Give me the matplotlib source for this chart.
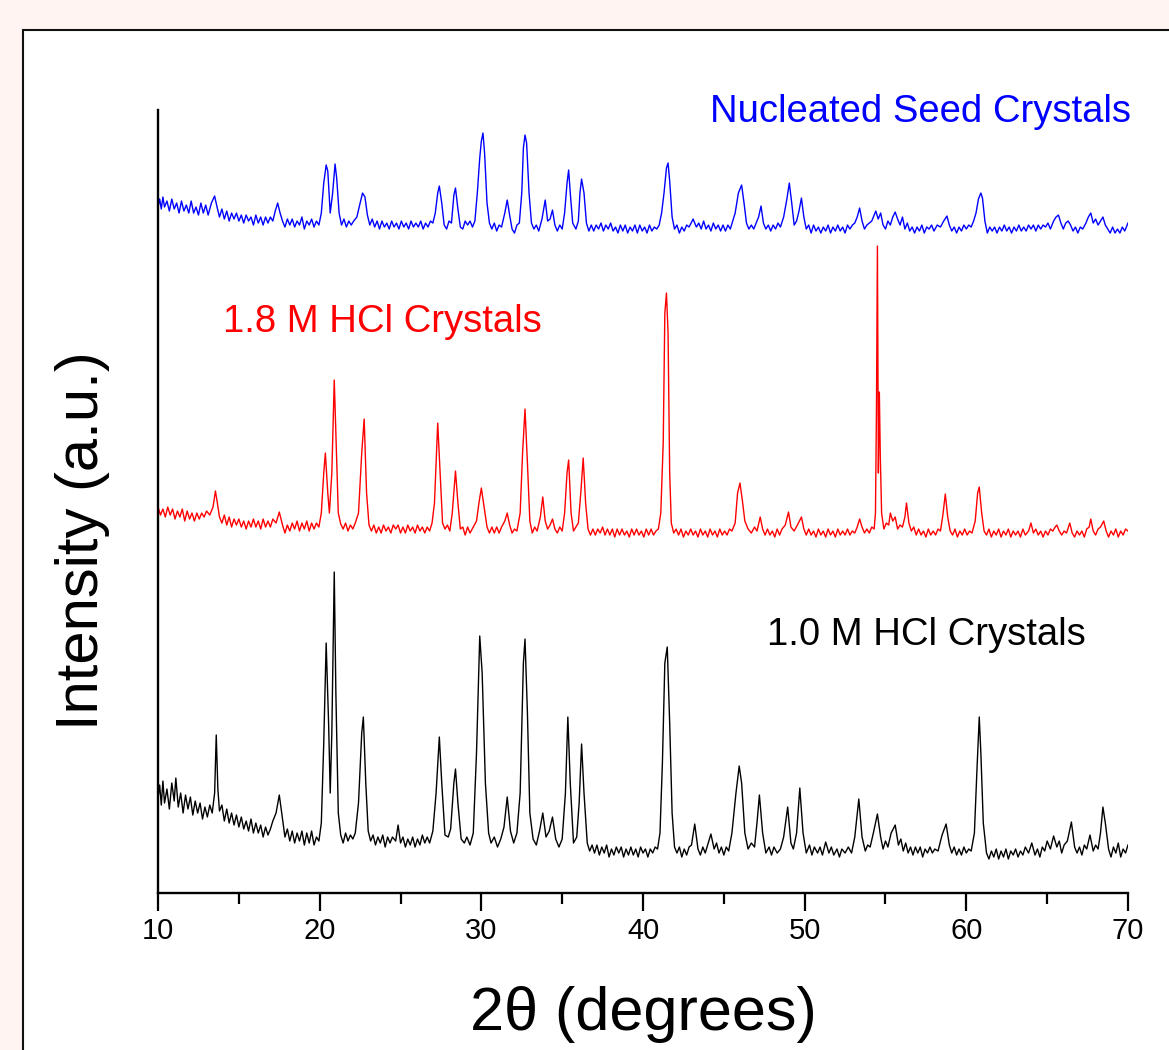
import matplotlib
matplotlib.use("Agg")
import matplotlib.pyplot as plt
import matplotlib.patches as mpatches
from matplotlib.ticker import MultipleLocator

plt.rcParams['font.family'] = ['Liberation Sans', 'DejaVu Sans']

# XRD patterns, (2theta, intensity a.u.), traces already offset
seed_pts = [
    (10.00, 686), (10.10, 694), (10.20, 684), (10.30, 696), (10.40, 686), (10.55, 692), (10.70, 682),
    (10.85, 694), (11.00, 684), (11.15, 690), (11.30, 680), (11.45, 692), (11.60, 682), (11.75, 688),
    (11.90, 680), (12.05, 692), (12.20, 680), (12.35, 686), (12.50, 678), (12.65, 690), (12.80, 680),
    (12.95, 688), (13.10, 678), (13.30, 690), (13.50, 697), (13.65, 686), (13.80, 676), (13.95, 684),
    (14.10, 674), (14.25, 682), (14.40, 672), (14.55, 680), (14.70, 674), (14.85, 680), (15.00, 672),
    (15.15, 678), (15.30, 670), (15.45, 678), (15.60, 672), (15.75, 676), (15.90, 668), (16.05, 678),
    (16.20, 670), (16.35, 676), (16.50, 668), (16.65, 676), (16.80, 670), (16.95, 676), (17.10, 672),
    (17.25, 682), (17.40, 690), (17.55, 680), (17.70, 672), (17.85, 666), (18.00, 674), (18.15, 668),
    (18.30, 674), (18.45, 666), (18.60, 672), (18.75, 668), (18.90, 676), (19.05, 664), (19.20, 672),
    (19.35, 668), (19.50, 674), (19.65, 666), (19.80, 672), (19.95, 668), (20.10, 680), (20.25, 710),
    (20.40, 728), (20.50, 722), (20.65, 680), (20.80, 700), (20.95, 729), (21.05, 715), (21.20, 680),
    (21.35, 668), (21.50, 674), (21.65, 666), (21.80, 672), (21.95, 668), (22.10, 672), (22.30, 676),
    (22.50, 690), (22.65, 700), (22.80, 696), (22.95, 678), (23.10, 668), (23.25, 674), (23.40, 666),
    (23.55, 672), (23.70, 664), (23.85, 672), (24.00, 666), (24.15, 670), (24.30, 664), (24.45, 672),
    (24.60, 666), (24.75, 670), (24.90, 664), (25.05, 672), (25.20, 666), (25.35, 670), (25.50, 664),
    (25.65, 672), (25.80, 666), (25.95, 670), (26.10, 666), (26.25, 672), (26.40, 664), (26.55, 670),
    (26.70, 666), (26.85, 672), (27.00, 670), (27.15, 680), (27.30, 700), (27.40, 707), (27.55, 690),
    (27.70, 668), (27.85, 664), (28.00, 672), (28.15, 670), (28.30, 698), (28.40, 705), (28.55, 684),
    (28.70, 666), (28.85, 664), (29.00, 672), (29.15, 668), (29.30, 672), (29.45, 666), (29.60, 672),
    (29.75, 700), (29.90, 735), (30.00, 752), (30.10, 760), (30.20, 740), (30.35, 690), (30.50, 670),
    (30.65, 664), (30.80, 670), (30.95, 662), (31.10, 668), (31.25, 666), (31.45, 680), (31.60, 693),
    (31.75, 678), (31.90, 664), (32.05, 660), (32.20, 668), (32.35, 670), (32.50, 700), (32.60, 745),
    (32.70, 758), (32.80, 750), (32.95, 700), (33.10, 670), (33.25, 664), (33.40, 668), (33.55, 662),
    (33.75, 674), (33.95, 693), (34.10, 672), (34.25, 674), (34.40, 683), (34.55, 668), (34.70, 662),
    (34.85, 668), (35.00, 664), (35.15, 680), (35.30, 710), (35.40, 723), (35.50, 700), (35.65, 670),
    (35.85, 664), (36.00, 672), (36.10, 700), (36.20, 714), (36.35, 700), (36.50, 670), (36.65, 662),
    (36.80, 668), (36.95, 662), (37.10, 668), (37.25, 664), (37.40, 670), (37.55, 662), (37.70, 668),
    (37.85, 664), (38.00, 670), (38.15, 662), (38.30, 666), (38.45, 660), (38.60, 668), (38.75, 662),
    (38.90, 668), (39.05, 660), (39.20, 666), (39.35, 662), (39.50, 668), (39.65, 660), (39.80, 668),
    (39.95, 662), (40.10, 666), (40.25, 660), (40.40, 668), (40.55, 662), (40.70, 666), (40.85, 664),
    (41.00, 668), (41.15, 680), (41.30, 700), (41.45, 725), (41.55, 730), (41.65, 712), (41.80, 676),
    (41.95, 664), (42.10, 668), (42.25, 660), (42.40, 666), (42.55, 662), (42.70, 668), (42.85, 666),
    (43.10, 674), (43.30, 666), (43.45, 670), (43.60, 664), (43.75, 672), (43.90, 664), (44.05, 668),
    (44.20, 662), (44.35, 670), (44.50, 664), (44.65, 668), (44.80, 662), (44.95, 668), (45.10, 662),
    (45.25, 668), (45.40, 664), (45.55, 672), (45.70, 680), (45.90, 700), (46.10, 708), (46.25, 690),
    (46.40, 670), (46.55, 664), (46.70, 668), (46.85, 664), (47.00, 670), (47.15, 676), (47.30, 687),
    (47.45, 670), (47.60, 664), (47.75, 668), (47.90, 662), (48.05, 668), (48.20, 664), (48.35, 670),
    (48.50, 666), (48.70, 676), (48.90, 694), (49.05, 710), (49.20, 690), (49.35, 668), (49.50, 672),
    (49.65, 682), (49.80, 695), (49.95, 676), (50.10, 664), (50.25, 668), (50.40, 660), (50.55, 668),
    (50.70, 662), (50.85, 666), (51.00, 660), (51.15, 666), (51.30, 662), (51.45, 668), (51.60, 660),
    (51.75, 666), (51.90, 662), (52.05, 668), (52.20, 662), (52.35, 666), (52.50, 660), (52.65, 668),
    (52.80, 664), (52.95, 668), (53.10, 670), (53.25, 676), (53.40, 685), (53.55, 672), (53.70, 664),
    (53.85, 668), (54.00, 670), (54.15, 672), (54.30, 678), (54.40, 682), (54.55, 674), (54.70, 680),
    (54.85, 668), (55.00, 664), (55.15, 672), (55.30, 668), (55.45, 676), (55.60, 681), (55.75, 674),
    (55.90, 668), (56.05, 676), (56.20, 664), (56.35, 670), (56.50, 662), (56.65, 666), (56.80, 660),
    (56.95, 666), (57.10, 662), (57.25, 668), (57.40, 660), (57.55, 666), (57.70, 664), (57.85, 668),
    (58.00, 662), (58.20, 668), (58.40, 666), (58.60, 672), (58.80, 677), (58.95, 668), (59.10, 662),
    (59.25, 666), (59.40, 660), (59.55, 666), (59.70, 662), (59.85, 668), (60.00, 664), (60.15, 668),
    (60.30, 666), (60.45, 672), (60.60, 680), (60.75, 694), (60.90, 700), (61.00, 695), (61.15, 672),
    (61.30, 660), (61.45, 666), (61.60, 662), (61.75, 666), (61.90, 660), (62.05, 666), (62.20, 662),
    (62.35, 668), (62.50, 662), (62.65, 666), (62.80, 660), (62.95, 666), (63.10, 662), (63.25, 668),
    (63.40, 662), (63.55, 666), (63.70, 662), (63.85, 668), (64.00, 664), (64.15, 668), (64.30, 662),
    (64.45, 668), (64.60, 664), (64.75, 668), (64.90, 666), (65.05, 670), (65.20, 664), (65.40, 672),
    (65.55, 676), (65.70, 678), (65.85, 670), (66.00, 664), (66.15, 670), (66.30, 672), (66.45, 668),
    (66.60, 662), (66.75, 666), (66.90, 660), (67.05, 666), (67.20, 664), (67.40, 670), (67.55, 676),
    (67.70, 680), (67.85, 670), (68.00, 674), (68.15, 668), (68.30, 672), (68.45, 676), (68.60, 668),
    (68.75, 664), (68.90, 660), (69.05, 666), (69.20, 660), (69.35, 664), (69.50, 660), (69.65, 666),
    (69.80, 662), (69.90, 666), (70.00, 670),
]

hcl18_pts = [
    (10.00, 386), (10.15, 378), (10.30, 384), (10.45, 376), (10.60, 386), (10.75, 378), (10.90, 384),
    (11.05, 374), (11.20, 382), (11.35, 376), (11.50, 384), (11.65, 372), (11.80, 382), (11.95, 374),
    (12.10, 380), (12.25, 372), (12.40, 380), (12.55, 374), (12.70, 380), (12.85, 376), (13.00, 382),
    (13.20, 378), (13.40, 386), (13.55, 402), (13.65, 392), (13.80, 376), (13.95, 370), (14.10, 378),
    (14.25, 368), (14.40, 376), (14.55, 366), (14.70, 374), (14.85, 368), (15.00, 374), (15.15, 366),
    (15.30, 372), (15.45, 364), (15.60, 372), (15.75, 366), (15.90, 374), (16.05, 366), (16.20, 372),
    (16.35, 364), (16.50, 374), (16.65, 366), (16.80, 372), (16.95, 366), (17.10, 374), (17.30, 370),
    (17.50, 381), (17.70, 368), (17.85, 360), (18.00, 368), (18.15, 362), (18.30, 370), (18.45, 364),
    (18.60, 372), (18.75, 362), (18.90, 370), (19.05, 364), (19.20, 372), (19.35, 362), (19.50, 370),
    (19.65, 364), (19.80, 370), (19.95, 366), (20.10, 380), (20.25, 420), (20.35, 440), (20.50, 400),
    (20.60, 380), (20.75, 420), (20.90, 513), (21.00, 460), (21.15, 380), (21.30, 369), (21.45, 364),
    (21.60, 370), (21.75, 362), (21.90, 368), (22.05, 364), (22.20, 370), (22.40, 380), (22.60, 440),
    (22.75, 474), (22.90, 400), (23.05, 368), (23.20, 362), (23.35, 368), (23.50, 360), (23.65, 366),
    (23.80, 360), (23.95, 368), (24.10, 362), (24.25, 366), (24.40, 360), (24.55, 368), (24.70, 364),
    (24.85, 368), (25.00, 360), (25.15, 366), (25.30, 360), (25.45, 368), (25.60, 362), (25.75, 366),
    (25.90, 360), (26.05, 368), (26.20, 362), (26.35, 366), (26.50, 360), (26.65, 366), (26.80, 362),
    (26.95, 370), (27.10, 390), (27.30, 470), (27.45, 420), (27.60, 370), (27.75, 364), (27.90, 368),
    (28.05, 362), (28.20, 380), (28.40, 422), (28.55, 390), (28.70, 364), (28.85, 366), (29.00, 358),
    (29.15, 366), (29.30, 360), (29.50, 366), (29.70, 372), (29.85, 390), (30.00, 405), (30.15, 388),
    (30.35, 366), (30.50, 360), (30.65, 366), (30.80, 360), (30.95, 366), (31.10, 360), (31.25, 366),
    (31.45, 372), (31.60, 380), (31.75, 368), (31.90, 360), (32.05, 364), (32.20, 362), (32.40, 380),
    (32.55, 440), (32.70, 484), (32.85, 430), (33.00, 372), (33.15, 360), (33.30, 366), (33.45, 362),
    (33.65, 376), (33.80, 396), (33.95, 372), (34.10, 364), (34.25, 368), (34.40, 374), (34.55, 364),
    (34.70, 360), (34.85, 366), (35.00, 362), (35.15, 380), (35.30, 420), (35.40, 433), (35.55, 380),
    (35.70, 362), (35.85, 366), (36.00, 370), (36.15, 400), (36.30, 435), (36.45, 390), (36.60, 364),
    (36.75, 358), (36.90, 364), (37.05, 358), (37.20, 364), (37.35, 360), (37.50, 366), (37.65, 358),
    (37.80, 364), (37.95, 358), (38.10, 364), (38.25, 356), (38.40, 364), (38.55, 358), (38.70, 364),
    (38.85, 358), (39.00, 362), (39.15, 356), (39.30, 364), (39.45, 358), (39.60, 364), (39.75, 358),
    (39.90, 362), (40.05, 356), (40.20, 364), (40.35, 358), (40.50, 364), (40.65, 358), (40.80, 362),
    (40.95, 364), (41.10, 380), (41.25, 450), (41.35, 580), (41.45, 600), (41.55, 560), (41.65, 420),
    (41.75, 370), (41.90, 360), (42.05, 364), (42.20, 358), (42.35, 364), (42.50, 356), (42.65, 362),
    (42.80, 358), (42.95, 364), (43.10, 358), (43.25, 362), (43.40, 356), (43.55, 364), (43.70, 358),
    (43.85, 362), (44.00, 356), (44.15, 364), (44.30, 358), (44.45, 362), (44.60, 356), (44.75, 364),
    (44.90, 358), (45.05, 362), (45.20, 358), (45.35, 364), (45.50, 362), (45.70, 370), (45.85, 400),
    (46.00, 410), (46.15, 392), (46.30, 372), (46.50, 364), (46.70, 360), (46.90, 366), (47.05, 362),
    (47.25, 376), (47.40, 364), (47.55, 358), (47.70, 364), (47.85, 358), (48.00, 362), (48.15, 356),
    (48.30, 364), (48.45, 358), (48.60, 364), (48.80, 368), (49.00, 381), (49.15, 366), (49.35, 362),
    (49.55, 368), (49.80, 376), (49.95, 364), (50.10, 358), (50.25, 364), (50.40, 358), (50.55, 362),
    (50.70, 356), (50.85, 364), (51.00, 358), (51.15, 362), (51.30, 356), (51.45, 364), (51.60, 358),
    (51.75, 362), (51.90, 356), (52.05, 364), (52.20, 358), (52.35, 362), (52.50, 358), (52.65, 364),
    (52.80, 358), (52.95, 362), (53.10, 360), (53.25, 366), (53.40, 374), (53.55, 366), (53.70, 360),
    (53.85, 364), (54.00, 360), (54.15, 366), (54.30, 364), (54.38, 380), (54.44, 480), (54.50, 647),
    (54.56, 420), (54.62, 501), (54.68, 436), (54.76, 380), (54.90, 364), (55.05, 370), (55.20, 368),
    (55.30, 380), (55.45, 372), (55.60, 376), (55.75, 364), (55.90, 368), (56.05, 366), (56.20, 376),
    (56.30, 390), (56.45, 370), (56.60, 362), (56.75, 366), (56.90, 358), (57.05, 364), (57.20, 358),
    (57.35, 362), (57.50, 356), (57.65, 364), (57.80, 358), (57.95, 362), (58.10, 358), (58.25, 364),
    (58.40, 362), (58.55, 378), (58.70, 399), (58.85, 376), (59.00, 362), (59.15, 358), (59.30, 364),
    (59.45, 356), (59.60, 362), (59.75, 358), (59.90, 364), (60.05, 358), (60.20, 362), (60.35, 360),
    (60.55, 372), (60.70, 400), (60.80, 406), (60.95, 380), (61.10, 362), (61.25, 358), (61.40, 364),
    (61.55, 356), (61.70, 362), (61.85, 358), (62.00, 364), (62.15, 356), (62.30, 362), (62.45, 358),
    (62.60, 364), (62.75, 356), (62.90, 362), (63.05, 358), (63.20, 362), (63.35, 356), (63.50, 364),
    (63.65, 358), (63.85, 362), (64.00, 370), (64.15, 360), (64.30, 364), (64.45, 358), (64.60, 362),
    (64.75, 356), (64.90, 362), (65.05, 358), (65.20, 364), (65.35, 362), (65.50, 366), (65.60, 368),
    (65.75, 362), (65.90, 358), (66.05, 362), (66.20, 360), (66.40, 370), (66.55, 360), (66.70, 356),
    (66.85, 362), (67.00, 358), (67.15, 362), (67.30, 356), (67.45, 364), (67.60, 366), (67.70, 374),
    (67.85, 362), (68.00, 358), (68.15, 364), (68.30, 366), (68.50, 372), (68.65, 362), (68.80, 356),
    (68.95, 362), (69.10, 358), (69.25, 364), (69.40, 356), (69.55, 362), (69.70, 358), (69.85, 364),
    (70.00, 362),
]

hcl10_pts = [
    (10.00, 95), (10.10, 108), (10.20, 88), (10.30, 112), (10.40, 90), (10.55, 104), (10.70, 84),
    (10.85, 110), (11.00, 92), (11.10, 115), (11.25, 86), (11.40, 100), (11.55, 80), (11.70, 98),
    (11.85, 84), (12.00, 96), (12.15, 78), (12.30, 92), (12.45, 80), (12.60, 90), (12.75, 74),
    (12.90, 86), (13.05, 76), (13.20, 88), (13.35, 80), (13.50, 100), (13.60, 158), (13.70, 104),
    (13.80, 82), (13.95, 88), (14.10, 72), (14.25, 84), (14.40, 70), (14.55, 80), (14.70, 68),
    (14.85, 78), (15.00, 66), (15.15, 76), (15.30, 64), (15.45, 72), (15.60, 62), (15.75, 74),
    (15.90, 60), (16.05, 70), (16.20, 60), (16.35, 68), (16.50, 56), (16.65, 66), (16.80, 58),
    (16.95, 64), (17.10, 72), (17.30, 80), (17.50, 98), (17.70, 74), (17.85, 56), (18.00, 64),
    (18.15, 52), (18.30, 62), (18.45, 50), (18.60, 60), (18.75, 52), (18.90, 62), (19.05, 48),
    (19.20, 60), (19.35, 50), (19.50, 62), (19.65, 48), (19.80, 56), (19.95, 52), (20.10, 70),
    (20.25, 150), (20.40, 250), (20.55, 170), (20.65, 100), (20.75, 160), (20.90, 321), (21.00, 200),
    (21.15, 80), (21.30, 58), (21.45, 50), (21.60, 60), (21.75, 52), (21.90, 58), (22.05, 54),
    (22.20, 60), (22.40, 90), (22.60, 160), (22.70, 176), (22.85, 110), (23.00, 62), (23.15, 52),
    (23.30, 58), (23.45, 48), (23.60, 56), (23.75, 50), (23.90, 58), (24.05, 46), (24.20, 56),
    (24.35, 50), (24.50, 56), (24.70, 52), (24.85, 68), (25.00, 50), (25.15, 56), (25.30, 46),
    (25.45, 54), (25.60, 48), (25.75, 56), (25.90, 46), (26.05, 54), (26.20, 48), (26.35, 58),
    (26.50, 50), (26.65, 56), (26.80, 50), (27.00, 62), (27.20, 100), (27.40, 156), (27.55, 110),
    (27.75, 58), (27.95, 56), (28.10, 64), (28.30, 110), (28.40, 124), (28.55, 90), (28.75, 54),
    (28.95, 50), (29.10, 56), (29.30, 48), (29.50, 60), (29.70, 140), (29.90, 257), (30.05, 220),
    (30.25, 110), (30.45, 60), (30.60, 50), (30.80, 56), (31.00, 46), (31.20, 54), (31.40, 66),
    (31.60, 96), (31.80, 62), (32.00, 50), (32.20, 60), (32.40, 100), (32.60, 230), (32.70, 254),
    (32.85, 180), (33.00, 80), (33.20, 54), (33.40, 48), (33.60, 62), (33.80, 80), (34.00, 56),
    (34.20, 62), (34.40, 76), (34.60, 54), (34.80, 46), (35.00, 54), (35.20, 100), (35.35, 176),
    (35.50, 110), (35.70, 50), (35.90, 56), (36.05, 90), (36.20, 149), (36.35, 100), (36.55, 50),
    (36.70, 42), (36.85, 48), (37.00, 40), (37.15, 48), (37.30, 38), (37.45, 46), (37.60, 40),
    (37.75, 48), (37.90, 36), (38.05, 44), (38.20, 38), (38.35, 46), (38.50, 40), (38.65, 46),
    (38.80, 36), (38.95, 44), (39.10, 38), (39.25, 46), (39.40, 38), (39.55, 44), (39.70, 36),
    (39.85, 46), (40.00, 40), (40.15, 44), (40.30, 36), (40.45, 44), (40.60, 40), (40.75, 46),
    (40.90, 44), (41.05, 60), (41.20, 130), (41.35, 230), (41.50, 246), (41.65, 170), (41.80, 80),
    (41.95, 46), (42.10, 40), (42.25, 46), (42.40, 36), (42.55, 44), (42.70, 38), (42.85, 46),
    (43.00, 48), (43.20, 69), (43.40, 44), (43.55, 38), (43.70, 46), (43.85, 40), (44.00, 48),
    (44.20, 59), (44.40, 44), (44.55, 50), (44.70, 40), (44.85, 46), (45.00, 38), (45.15, 46),
    (45.30, 42), (45.50, 60), (45.75, 100), (45.95, 127), (46.10, 110), (46.30, 60), (46.50, 44),
    (46.70, 50), (46.90, 46), (47.05, 70), (47.20, 98), (47.40, 60), (47.60, 40), (47.80, 46),
    (47.95, 38), (48.10, 46), (48.30, 40), (48.50, 44), (48.70, 56), (48.95, 86), (49.15, 50),
    (49.30, 44), (49.50, 60), (49.70, 105), (49.90, 60), (50.10, 40), (50.30, 48), (50.45, 38),
    (50.60, 46), (50.80, 40), (50.95, 46), (51.10, 38), (51.30, 51), (51.50, 40), (51.65, 46),
    (51.80, 38), (52.00, 44), (52.15, 36), (52.30, 44), (52.50, 40), (52.70, 46), (52.90, 40),
    (53.10, 56), (53.35, 94), (53.55, 56), (53.75, 42), (53.90, 48), (54.05, 46), (54.25, 60),
    (54.50, 79), (54.70, 56), (54.85, 44), (55.00, 52), (55.15, 46), (55.35, 60), (55.60, 68),
    (55.80, 48), (55.95, 54), (56.10, 42), (56.25, 50), (56.40, 40), (56.55, 46), (56.70, 38),
    (56.85, 46), (57.00, 40), (57.15, 46), (57.30, 36), (57.45, 44), (57.60, 40), (57.75, 46),
    (57.90, 40), (58.05, 44), (58.25, 42), (58.50, 58), (58.75, 69), (58.95, 48), (59.10, 40),
    (59.25, 46), (59.40, 38), (59.55, 44), (59.70, 38), (59.85, 46), (60.00, 40), (60.15, 44),
    (60.30, 42), (60.50, 60), (60.65, 120), (60.80, 176), (60.90, 140), (61.05, 70), (61.25, 40),
    (61.40, 34), (61.55, 42), (61.70, 36), (61.85, 44), (62.00, 34), (62.15, 42), (62.30, 36),
    (62.45, 44), (62.60, 34), (62.75, 42), (62.90, 38), (63.05, 44), (63.20, 36), (63.35, 42),
    (63.50, 38), (63.65, 46), (63.85, 40), (64.05, 50), (64.25, 38), (64.40, 44), (64.55, 36),
    (64.70, 46), (64.85, 42), (65.00, 52), (65.20, 44), (65.40, 57), (65.60, 46), (65.75, 52),
    (65.90, 40), (66.05, 48), (66.25, 52), (66.50, 71), (66.70, 46), (66.85, 40), (67.00, 46),
    (67.15, 38), (67.30, 48), (67.45, 44), (67.65, 58), (67.85, 42), (68.00, 48), (68.15, 44),
    (68.30, 60), (68.45, 86), (68.60, 70), (68.80, 44), (68.95, 36), (69.10, 46), (69.25, 40),
    (69.40, 50), (69.55, 36), (69.70, 44), (69.85, 40), (70.00, 48),
]

series_labels = ["Nucleated Seed Crystals", "1.8 M HCl Crystals", "1.0 M HCl Crystals"]
series_colors = ["#0000ff", "#ff0000", "#000000"]
xticks_major = [10, 20, 30, 40, 50, 60, 70]

fig = plt.figure(figsize=(11.69, 10.5), dpi=100, facecolor='#fff4f2')

# white panel with a dark border (runs off the right/bottom edge)
panel = mpatches.Rectangle((0.0197, -0.05), 1.05, 0.9714 + 0.05, transform=fig.transFigure,
                           facecolor='white', edgecolor='#111111', linewidth=1.5, zorder=-1)
fig.add_artist(panel)

ax = fig.add_axes([0.1352, 0.1495, 0.8297, 0.7457])
ax.set_facecolor('none')

for pts, c in zip([seed_pts, hcl18_pts, hcl10_pts], series_colors):
    xs = [p[0] for p in pts]
    ys = [p[1] for p in pts]
    ax.plot(xs, ys, color=c, linewidth=1.0)

ax.set_xlim(10, 70)
ax.set_ylim(0, 783)

for s in ['top', 'right']:
    ax.spines[s].set_visible(False)
for s in ['left', 'bottom']:
    ax.spines[s].set_linewidth(1.7)

ax.set_yticks([])
ax.set_xticks(xticks_major)
ax.xaxis.set_minor_locator(MultipleLocator(5))
ax.tick_params(axis='x', which='major', direction='out', length=13, width=1.6, labelsize=21, pad=4)
ax.tick_params(axis='x', which='minor', direction='out', length=8, width=1.6)

# series labels
ax.text(70.18, 771, series_labels[0], color=series_colors[0], fontsize=27.5, ha='right', va='baseline')
ax.text(14.02, 561, series_labels[1], color=series_colors[1], fontsize=27.5, ha='left', va='baseline')
ax.text(47.67, 248, series_labels[2], color=series_colors[2], fontsize=27.5, ha='left', va='baseline')

fig.text(83 / 1169, 1 - 541 / 1050, "Intensity (a.u.)", rotation=90, fontsize=43,
         ha='center', va='center')
fig.text(643 / 1169, 1 - 1030 / 1050, "2θ (degrees)", fontsize=44, ha='center', va='baseline')

fig.savefig('out.png', dpi=100, facecolor=fig.get_facecolor())
